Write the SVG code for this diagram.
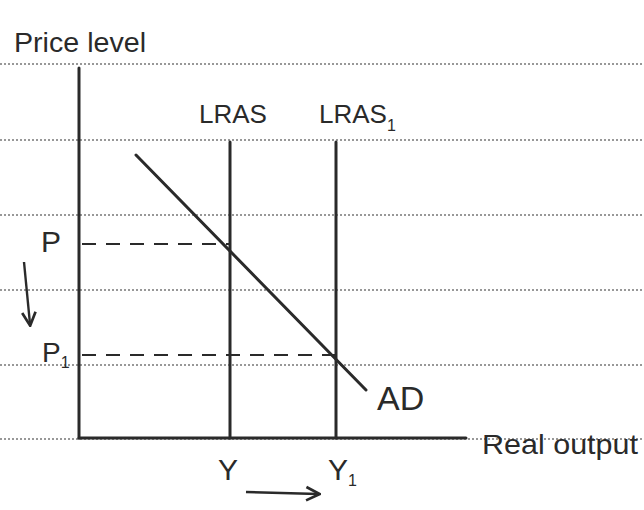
<svg xmlns="http://www.w3.org/2000/svg" width="644" height="510" viewBox="0 0 644 510">
<style>
.rule{stroke:#777;stroke-width:1.3;stroke-dasharray:2 2;fill:none}
.ax{stroke:#2a2a2a;stroke-width:3;fill:none;stroke-linecap:round}
.dash{stroke:#2a2a2a;stroke-width:1.8;stroke-dasharray:14 10;fill:none}
.lbl{font-family:"Liberation Sans",Arial,sans-serif;fill:#2a2a2a}
</style>
<defs>
<marker id="ah" viewBox="0 0 10 10" refX="8" refY="5" markerWidth="7" markerHeight="7" orient="auto">
<path d="M1,1 L9,5 L1,9" fill="none" stroke="#2a2a2a" stroke-width="1.6"/>
</marker>
</defs>
<rect width="644" height="510" fill="#fff"/>
<g id="ruled-lines">
<line class="rule" x1="0" y1="64" x2="644" y2="64"/>
<line class="rule" x1="0" y1="140" x2="644" y2="140"/>
<line class="rule" x1="0" y1="215" x2="644" y2="215"/>
<line class="rule" x1="0" y1="290" x2="644" y2="290"/>
<line class="rule" x1="0" y1="365" x2="644" y2="365"/>
<line class="rule" x1="0" y1="439" x2="644" y2="439"/>
</g>
<g id="axes">
<line class="ax" x1="79" y1="68" x2="79" y2="438"/>
<line class="ax" x1="79" y1="438" x2="466" y2="438"/>
<text class="lbl" x="14" y="52" font-size="28" textLength="132" lengthAdjust="spacingAndGlyphs">Price level</text>
<text class="lbl" x="482" y="454" font-size="28" textLength="156" lengthAdjust="spacingAndGlyphs">Real output</text>
</g>
<g id="lras">
<line class="ax" x1="230" y1="142" x2="230" y2="438"/>
<text class="lbl" x="199" y="123" font-size="26">LRAS</text>
</g>
<g id="lras1">
<line class="ax" x1="336" y1="142" x2="336" y2="438"/>
<text class="lbl" x="319" y="123" font-size="26">LRAS<tspan font-size="16" dy="8">1</tspan></text>
</g>
<g id="ad">
<line class="ax" x1="136" y1="155" x2="366" y2="390"/>
<text class="lbl" x="377" y="410" font-size="34">AD</text>
</g>
<g id="connectors">
<line class="dash" x1="82" y1="244" x2="230" y2="244"/>
<line class="dash" x1="82" y1="355" x2="336" y2="355"/>
<line stroke="#2a2a2a" stroke-width="2.4" x1="24" y1="262" x2="30" y2="324" marker-end="url(#ah)"/>
<line stroke="#2a2a2a" stroke-width="2.4" x1="246" y1="492" x2="318" y2="494" marker-end="url(#ah)"/>
</g>
<g id="labels">
<text class="lbl" x="41" y="252" font-size="30">P</text>
<text class="lbl" x="42" y="362" font-size="28">P<tspan font-size="16" dy="6">1</tspan></text>
<text class="lbl" x="218" y="480" font-size="30">Y</text>
<text class="lbl" x="328" y="480" font-size="30">Y<tspan font-size="16" dy="6">1</tspan></text>
</g>
</svg>
